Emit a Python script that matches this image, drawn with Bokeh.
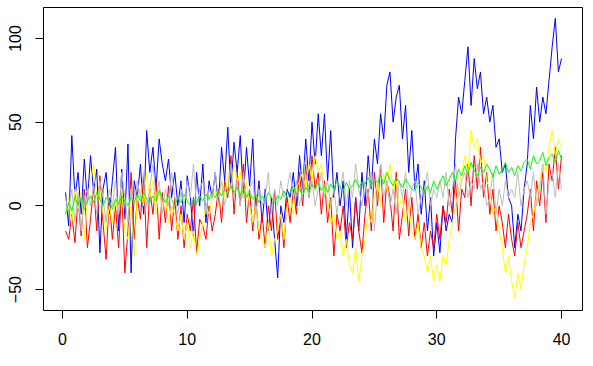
import numpy as np
from bokeh.plotting import figure
from bokeh.models import Range1d, FixedTicker
from bokeh.embed import file_html
from bokeh.resources import INLINE

x_step = 0.25
n_points = 160
x = [round((i + 1) * x_step, 2) for i in range(n_points)]

blue = [8, -12, 42, 5, 20, -5, 28, 2, 30, 8, 22, -28, 10, 20, -5, 15,
        35, -15, 22, -8, 37, -40, 15, 5, 25, -5, 45, 20, 35, 10, 40, 25,
        15, 28, 5, 20, 0, 15, -10, 18, 5, -18, 20, 0, 25, -10, 15, 5,
        20, 0, 35, 15, 47, 10, 38, 20, 42, 5, 35, 12, 40, -5, 15, -10,
        10, -15, 5, -20, -43, 0, -10, 10, 5, 20, 0, 30, 10, 40, 15, 50,
        25, 55, 30, 55, 15, 45, 5, 20, 0, 15, -20, 10, -25, 5, -15, 20,
        0, 30, 10, 40, 25, 55, 40, 72, 80, 50, 65, 72, 40, 60, 20, 45,
        10, 25, -5, 15, -15, 5, -30, -10, -28, 0, -15, -5, -10, 40, 65, 55,
        75, 95, 60, 88, 70, 80, 55, 65, 50, 60, 35, 40, 20, 25, 5, 0,
        -25, -5, -15, 10, 25, 60, 40, 71, 50, 65, 55, 75, 95, 112, 80, 88]

red = [-15, -20, -5, -22, 5, -18, 10, -25, -8, 12, -15, 18, -10, -32, 5, -20,
       0, -25, 10, -40, -15, 20, -20, 5, -8, 18, -25, 10, -5, 15, -20, 8,
       -10, 12, -15, 5, -20, 0, -25, -5, -15, 5, -28, -8, -12, -20, 0, -15,
       -5, 10, -10, 15, 5, 30, -5, 20, 0, 25, -10, 10, -15, 5, -20, -5,
       -25, 0, -15, 10, -20, -5, -25, 5, -10, 10, -5, 20, 0, 25, 5, 30,
       10, 20, -5, 15, -10, 5, -30, -5, -15, 0, -25, -10, -20, 5, -15, -28,
       -5, 10, -15, 20, 0, 25, -10, 15, 5, -15, 20, -20, -5, 10, -18, 5,
       -20, -5, -25, -10, -30, -15, -25, -5, -20, 0, -10, 10, -5, 15, -15, 10,
       5, 25, 0, 30, 10, 35, 5, 20, -5, 10, -15, 0, -10, -25, -5, -20,
       -30, -10, -25, -15, -5, 10, -15, 15, 0, 20, -10, 25, 15, 35, 10, 30]

yellow = [-5, 5, -10, 10, -2, 8, -20, 5, 15, 25, 5, 10, -5, -15, 0, -10,
          5, -5, 10, -15, -20, 0, -30, 5, 10, 0, 20, 5, 15, -5, 10, 0,
          5, -10, 0, -5, -15, -5, -20, -10, -25, -15, -30, -20, -10, 0, -5, 5,
          10, 0, 15, 5, 20, 10, 25, 15, 20, 5, 15, 0, -10, 0, -15, -20,
          -25, -10, -30, -20, -15, -5, -20, 0, 5, -5, 10, 15, 20, 10, 25, 15,
          30, 20, 25, 10, 5, -10, -5, -20, -15, -30, -20, -35, -40, -25, -45, -30,
          -20, -5, -10, 5, 15, 0, 20, 10, 25, 10, 15, 0, 5, -10, 0, -15,
          -20, -10, -25, -30, -40, -30, -45, -35, -45, -30, -35, -20, -10, 0, 10, 20,
          30, 20, 45, 35, 40, 25, 30, 15, 10, -5, 0, -15, -25, -40, -30, -45,
          -55, -40, -50, -35, -25, -10, -5, 5, 15, 25, 20, 35, 45, 30, 40, 35]

green = [-5, 2, -3, 5, 0, 5, -2, 3, 6, 2, 8, 4, 0, 5, 3, -2,
         4, 1, 6, 3, 0, 5, 2, 7, 3, 8, 4, 2, 6, 3, 9, 5,
         2, 6, 4, 0, 5, 2, 7, 3, 0, 4, 2, 6, 3, 7, 4, 8,
         5, 9, 6, 10, 7, 12, 8, 11, 6, 10, 5, 8, 4, 7, 2, 6,
         3, 8, 5, 2, 6, 4, 9, 5, 8, 12, 7, 10, 6, 11, 8, 13,
         10, 14, 9, 12, 8, 13, 10, 15, 11, 9, 14, 10, 12, 16, 11, 14,
         13, 17, 12, 16, 14, 18, 13, 20, 15, 12, 17, 14, 11, 16, 13, 10,
         9, 14, 11, 7, 12, 8, 15, 10, 14, 18, 12, 16, 20, 15, 22, 18,
         24, 19, 26, 21, 18, 23, 20, 25, 22, 17, 24, 19, 21, 26, 20, 23,
         18, 24, 21, 26, 28, 22, 30, 25, 27, 32, 24, 29, 31, 26, 33, 28]

grey = [5, -5, 10, -10, 8, -15, 5, 10, 0, 12, -5, 15, 5, -10, 10, 0,
        15, -5, 20, 5, -10, 10, 0, 15, 5, 20, 0, 10, 25, 5, 15, -5,
        10, 0, 20, 5, -5, 10, 0, 15, 5, 25, 0, 10, 15, -5, 10, 5,
        20, 5, 15, 0, 10, 25, 5, 15, 0, 20, 5, 10, 15, -5, 10, 0,
        5, 20, -5, 10, 0, 15, 5, 10, 20, 5, 15, 0, 10, 30, 5, 15,
        0, 10, 20, 5, 15, 0, 10, -5, 10, 20, 0, 15, 5, 25, 10, 0,
        15, 5, 20, -15, 10, 25, 5, 15, 0, 10, -5, 15, 5, 20, 0, 10,
        15, -5, 5, 10, 20, 0, 10, 5, 15, 5, 20, 0, 10, 25, 5, 15,
        20, 5, 15, 10, 25, 10, 15, 0, 5, 20, -5, 10, 0, 15, 5, 10,
        5, 20, 0, 10, 15, 5, 20, 0, 10, 25, -5, 15, 20, 5, 25, 10]

x_ticks = [0, 10, 20, 30, 40]
y_ticks = [-50, 0, 50, 100]

series = [(blue, "#0000FF"), (red, "#FF0000"), (yellow, "#FFFF00"),
          (grey, "#BEBEBE"), (green, "#00FF00")]

p = figure(width=588, height=347, output_backend="svg", toolbar_location=None,
           x_range=Range1d(-1.52, 41.68), y_range=Range1d(-62.5, 118.5),
           min_border_left=43, min_border_right=6, min_border_top=7,
           min_border_bottom=0)

for vals, col in series:
    p.line(x, vals, line_color=col, line_width=1)

p.xgrid.visible = False
p.ygrid.visible = False
p.outline_line_color = "black"
p.outline_line_width = 1
p.background_fill_color = "white"
p.border_fill_color = "white"

for ax, ticks in ((p.xaxis[0], x_ticks), (p.yaxis[0], y_ticks)):
    ax.ticker = FixedTicker(ticks=ticks)
    ax.axis_line_color = None
    ax.major_tick_in = 0
    ax.major_tick_out = 8
    ax.major_tick_line_color = "black"
    ax.minor_tick_line_color = None
    ax.major_label_text_font = "Liberation Sans"
    ax.major_label_text_font_size = "16px"
    ax.major_label_text_color = "black"
    ax.major_label_standoff = 14

p.yaxis[0].major_label_orientation = "vertical"

open("out.html", "w").write(file_html(p, INLINE))
